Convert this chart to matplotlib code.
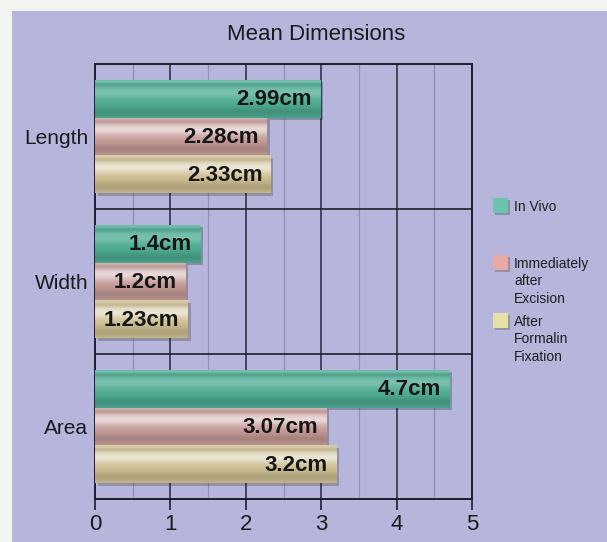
import numpy as np
import matplotlib.pyplot as plt
import matplotlib.patheffects as pe
from matplotlib.patches import Rectangle
from matplotlib.colors import to_rgb

categories = ["Length", "Width", "Area"]
in_vivo = [2.99, 1.4, 4.7]
after_excision = [2.28, 1.2, 3.07]
after_formalin = [2.33, 1.23, 3.2]
series_names = ["In Vivo", "Immediately\nafter\nExcision", "After\nFormalin\nFixation"]
xticks = [0, 1, 2, 3, 4, 5]

bar_colors = ["#4eab93", "#c49a96", "#cdbe90"]
highlights = [0.25, 0.62, 0.6]
legend_colors = ["#6cc2aa", "#e6a9a6", "#e6e0a4"]
bg = "#b6b6dd"

W, H = 607, 542
fig = plt.figure(figsize=(W / 100, H / 100), dpi=100, facecolor="#f3f3f1")
plt.rcParams["font.family"] = ["Liberation Sans", "DejaVu Sans"]

def fx(px):
    return px / W

def fy(py):
    return 1 - py / H

# lavender panel behind everything
fig.patches.append(Rectangle((fx(12), 0), 1 - fx(12), fy(11), transform=fig.transFigure,
                             facecolor=bg, edgecolor="none", zorder=-10))

ax = fig.add_axes([fx(95), fy(499), fx(472) - fx(95), fy(64) - fy(499)])
ax.set_facecolor(bg)


def shade(base, amount, n=64):
    t = np.linspace(0, 1, n)
    c = np.array(to_rgb(base))
    light = amount * np.exp(-((t - 0.32) / 0.17) ** 2) + 0.25 * np.exp(-((t - 0.03) / 0.04) ** 2)
    dark = 0.15 * np.exp(-((t - 0.85) / 0.14) ** 2) + 0.08 * np.exp(-((t - 0.12) / 0.05) ** 2)
    rows = c[None, :] * (1 - light[:, None]) + light[:, None]
    rows = rows * (1 - dark[:, None])
    return np.clip(rows, 0, 1)[:, None, :]


h = 0.262
y = np.arange(len(categories))
for k, vals in enumerate([in_vivo, after_excision, after_formalin]):
    yc = y + (k - 1) * h
    bars = ax.barh(yc, vals, height=h, color=bar_colors[k], zorder=3,
                   path_effects=[pe.SimplePatchShadow(offset=(2, -2), alpha=0.3), pe.Normal()])
    for b, v in zip(bars, vals):
        y0 = b.get_y()
        im = ax.imshow(shade(bar_colors[k], highlights[k]), extent=(0, v, y0 + h, y0),
                       aspect="auto", interpolation="bicubic", zorder=4)
        im.set_clip_path(b)
        ax.annotate(f"{v:g}cm", (v, y0 + h / 2), xytext=(-6, -1), textcoords="offset points",
                    ha="right", va="center", fontsize=16, fontweight="bold",
                    color="#161616", zorder=5)

ax.set_xlim(0, 5)
ax.set_ylim(2.5, -0.5)

# grid: dark lines on whole units, faint ones at halves, separators between groups
for x in np.arange(0.5, 5, 1):
    ax.axvline(x, color="#8f8fb6", lw=0.9, zorder=1)
for x in range(1, 5):
    ax.axvline(x, color="#26263a", lw=1.1, zorder=1)
for s in [0.5, 1.5]:
    ax.axhline(s, color="#1e1e2a", lw=1.2, zorder=2)

for sp in ax.spines.values():
    sp.set_color("#1e1e2a")
    sp.set_linewidth(1.4)

ax.set_xticks(xticks)
ax.set_xticklabels([str(t) for t in xticks], fontsize=16, color="#1a1a1a")
ax.tick_params(axis="x", length=8, width=1.2, color="#1e1e2a", pad=3)
ax.set_yticks(y)
ax.set_yticklabels(categories, fontsize=15, color="#1a1a1a")
ax.tick_params(axis="y", length=0, pad=5)

fig.text(fx(316), fy(34), "Mean Dimensions", ha="center", va="center", fontsize=16, color="#1a1a1a")

# legend
legend_y = [198, 255, 313]
for col, name, ly in zip(legend_colors, series_names, legend_y):
    fig.patches.append(Rectangle((fx(493), fy(ly + 15)), fx(15), fy(0) - fy(15),
                                 transform=fig.transFigure, facecolor=col, edgecolor="none",
                                 path_effects=[pe.SimplePatchShadow(offset=(1.5, -1.5), alpha=0.3), pe.Normal()]))
    fig.text(fx(514), fy(ly + 2), name, ha="left", va="top", fontsize=10,
             color="#1e1e1e", linespacing=1.3)

fig.savefig("out.png", dpi=100, facecolor=fig.get_facecolor())
